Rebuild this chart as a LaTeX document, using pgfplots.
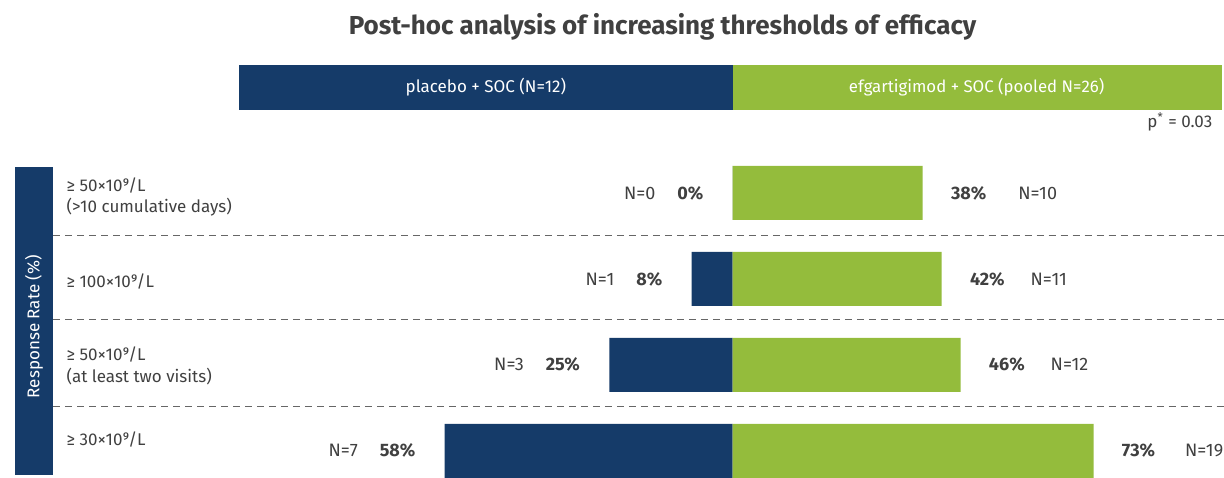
\documentclass[border=0pt]{standalone}
\usepackage{pgfplots}
\pgfplotsset{compat=1.18}
\usepackage{fontspec}
\setmainfont{Fira Sans}

\definecolor{navy}{HTML}{153B69}
\definecolor{leaf}{HTML}{94BC3C}
\definecolor{ink}{HTML}{404040}

% 1 px of the reference = 0.5pt; x in percent (4.94 px per %), y in rows (86 px per row)
\begin{document}
\begin{tikzpicture}
\begin{axis}[
    scale only axis,
    width=612pt, height=237.5pt,
    xmin=-148.4, xmax=99.4,
    ymin=-2.244, ymax=3.279,
    y dir=reverse,
    hide axis,
    clip=false,
    bar width=0.628,
    bar shift=0pt,
    font=\fontsize{8.5}{11}\selectfont\color{ink},
    point meta=explicit symbolic,
]
% keep the whole frame in the page
\path (rel axis cs:0,0) rectangle (rel axis cs:1,1);
% left band and row separators
\fill[navy] (axis cs:-145.3,-0.302) rectangle (axis cs:-137.65,3.279);
\pgfplotsinvokeforeach{0.494,1.477,2.488}{
  \draw[gray!80!black, line width=0.5pt, dash pattern=on 3.5pt off 2.5pt]
    (axis cs:-137.65,#1) -- (axis cs:99.4,#1);
}

% header boxes
\addplot[xbar, bar width=0.523, fill=navy, draw=none] coordinates {(-100,-1.227)};
\addplot[xbar, bar width=0.523, fill=leaf, draw=none] coordinates {(99,-1.227)};

% placebo + SOC
\addplot[xbar, fill=navy, draw=none,
  nodes near coords,
  every node near coord/.style={anchor=east, inner sep=0pt, xshift=-14.5pt, font=\fontsize{9}{11}\selectfont\color{ink}}]
  coordinates {
    (0,0)     [N=0\hspace{11pt}\textbf{0\%}]
    (-8.33,1) [N=1\hspace{11pt}\textbf{8\%}]
    (-25,2)   [N=3\hspace{11pt}\textbf{25\%}]
    (-58.33,3)[N=7\hspace{11pt}\textbf{58\%}]
  };
% efgartigimod + SOC
\addplot[xbar, fill=leaf, draw=none,
  nodes near coords,
  every node near coord/.style={anchor=west, inner sep=0pt, xshift=14pt, font=\fontsize{9}{11}\selectfont\color{ink}}]
  coordinates {
    (38.46,0) [\textbf{38\%}\hspace{16pt}N=10]
    (42.31,1) [\textbf{42\%}\hspace{13pt}N=11]
    (46.15,2) [\textbf{46\%}\hspace{13pt}N=12]
    (73.08,3) [\textbf{73\%}\hspace{15pt}N=19]
  };

% texts
\node[font=\bfseries\fontsize{13}{15}\selectfont, text=ink] at (axis cs:-14.2,-1.93)
  {Post-hoc analysis of increasing thresholds of efficacy};
\node[text=white, font=\fontsize{8.5}{10}\selectfont] at (axis cs:-50,-1.227) {placebo + SOC (N=12)};
\node[text=white, font=\fontsize{8.4}{10}\selectfont] at (axis cs:49.4,-1.227) {efgartigimod + SOC (pooled N=26)};
\node[anchor=east, inner sep=0pt] at (axis cs:97.2,-0.826) {p\textsuperscript{*} = 0.03};

\node[anchor=west, inner sep=0pt, align=left] at (axis cs:-135,0.047)
  {≥ 50×10⁹/L\\(>10 cumulative days)};
\node[anchor=west, inner sep=0pt] at (axis cs:-135,1.035) {≥ 100×10⁹/L};
\node[anchor=west, inner sep=0pt, align=left] at (axis cs:-135,2.01)
  {≥ 50×10⁹/L\\(at least two visits)};
\node[anchor=west, inner sep=0pt] at (axis cs:-135,2.872) {≥ 30×10⁹/L};
\node[rotate=90, text=white] at (axis cs:-141.5,1.555) {Response Rate (\%)};
\end{axis}
\end{tikzpicture}
\end{document}
